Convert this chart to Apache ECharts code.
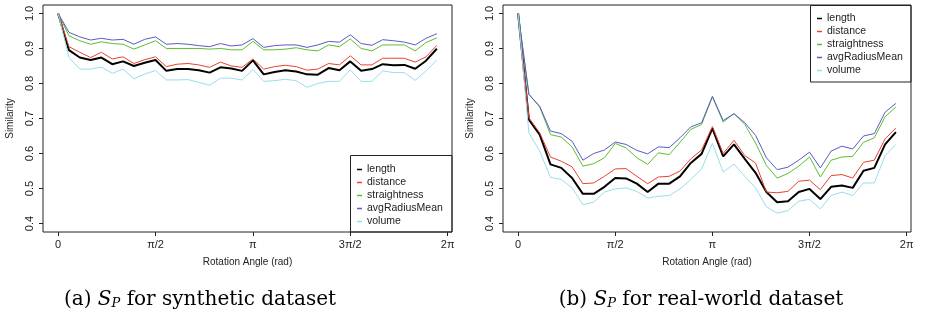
<!DOCTYPE html>
<html>
<head>
<meta charset="utf-8">
<script src="https://cdn.jsdelivr.net/npm/echarts@6/dist/echarts.min.js"></script>
<style>
  html, body { margin: 0; padding: 0; background: #fff; }
  #main { width: 925px; height: 321px; }
</style>
</head>
<body>
<div id="main"></div>
<script>
// rotation angles in degrees (one sample every 10 degrees)
const angleDeg = [0, 10, 20, 30, 40, 50, 60, 70, 80, 90, 100, 110, 120, 130, 140, 150, 160, 170,
                  180, 190, 200, 210, 220, 230, 240, 250, 260, 270, 280, 290, 300, 310, 320, 330, 340, 350];

const seriesNames = ['length', 'distance', 'straightness', 'avgRadiusMean', 'volume'];

// (a) synthetic dataset
const synLength = [1.0, 0.895, 0.874, 0.867, 0.874, 0.855, 0.863, 0.850, 0.859, 0.867, 0.836, 0.841, 0.841, 0.838, 0.831, 0.846, 0.843, 0.836,
                   0.866, 0.826, 0.833, 0.838, 0.834, 0.826, 0.825, 0.844, 0.838, 0.863, 0.836, 0.841, 0.855, 0.852, 0.853, 0.842, 0.865, 0.899];
const synDistance = [1.0, 0.905, 0.889, 0.874, 0.889, 0.870, 0.876, 0.857, 0.868, 0.876, 0.848, 0.855, 0.857, 0.853, 0.846, 0.861, 0.850, 0.846,
                     0.870, 0.841, 0.848, 0.852, 0.848, 0.838, 0.841, 0.857, 0.853, 0.879, 0.853, 0.853, 0.872, 0.872, 0.872, 0.861, 0.876, 0.909];
const synStraightness = [1.0, 0.936, 0.922, 0.912, 0.919, 0.914, 0.912, 0.898, 0.910, 0.922, 0.900, 0.900, 0.900, 0.900, 0.898, 0.900, 0.896, 0.896,
                         0.920, 0.896, 0.896, 0.898, 0.902, 0.896, 0.893, 0.910, 0.905, 0.927, 0.900, 0.893, 0.910, 0.910, 0.910, 0.893, 0.917, 0.930];
const synAvgRadiusMean = [1.0, 0.946, 0.933, 0.924, 0.929, 0.924, 0.926, 0.912, 0.926, 0.933, 0.912, 0.914, 0.912, 0.908, 0.905, 0.914, 0.907, 0.910,
                          0.928, 0.903, 0.908, 0.910, 0.910, 0.903, 0.910, 0.920, 0.918, 0.939, 0.914, 0.909, 0.925, 0.922, 0.918, 0.910, 0.929, 0.942];
const synVolume = [1.0, 0.874, 0.841, 0.841, 0.847, 0.829, 0.841, 0.813, 0.827, 0.837, 0.810, 0.810, 0.811, 0.803, 0.795, 0.815, 0.815, 0.810,
                   0.840, 0.806, 0.808, 0.812, 0.808, 0.789, 0.800, 0.806, 0.806, 0.839, 0.806, 0.806, 0.836, 0.831, 0.831, 0.809, 0.836, 0.867];

// (b) real-world dataset
const realLength = [1.0, 0.697, 0.654, 0.569, 0.559, 0.530, 0.485, 0.485, 0.505, 0.530, 0.529, 0.514, 0.490, 0.514, 0.514, 0.535, 0.573, 0.599,
                    0.672, 0.592, 0.626, 0.585, 0.545, 0.490, 0.461, 0.464, 0.490, 0.499, 0.470, 0.505, 0.509, 0.502, 0.551, 0.559, 0.626, 0.661];
const realDistance = [1.0, 0.702, 0.659, 0.590, 0.578, 0.562, 0.514, 0.516, 0.535, 0.556, 0.557, 0.535, 0.514, 0.533, 0.535, 0.550, 0.585, 0.610,
                      0.677, 0.600, 0.638, 0.594, 0.573, 0.490, 0.488, 0.492, 0.521, 0.524, 0.497, 0.537, 0.540, 0.530, 0.575, 0.581, 0.642, 0.673];
const realStraightness = [1.0, 0.769, 0.733, 0.654, 0.647, 0.619, 0.564, 0.571, 0.588, 0.629, 0.616, 0.588, 0.569, 0.602, 0.597, 0.632, 0.669, 0.683,
                          0.762, 0.690, 0.714, 0.683, 0.630, 0.566, 0.530, 0.543, 0.564, 0.590, 0.533, 0.581, 0.590, 0.592, 0.632, 0.645, 0.705, 0.733];
const realAvgRadiusMean = [1.0, 0.769, 0.735, 0.664, 0.657, 0.635, 0.581, 0.600, 0.610, 0.633, 0.626, 0.609, 0.599, 0.619, 0.617, 0.645, 0.676, 0.688,
                           0.763, 0.694, 0.714, 0.688, 0.652, 0.588, 0.554, 0.561, 0.581, 0.604, 0.559, 0.607, 0.621, 0.613, 0.650, 0.657, 0.718, 0.743];
const realVolume = [1.0, 0.659, 0.607, 0.532, 0.526, 0.502, 0.454, 0.461, 0.490, 0.499, 0.502, 0.492, 0.473, 0.478, 0.480, 0.499, 0.526, 0.556,
                    0.629, 0.547, 0.570, 0.535, 0.502, 0.448, 0.430, 0.437, 0.464, 0.469, 0.442, 0.480, 0.490, 0.480, 0.516, 0.516, 0.594, 0.626];

// tick labels
const xTickValues = [0, Math.PI / 2, Math.PI, 3 * Math.PI / 2, 2 * Math.PI];
const xTickLabels = ['0', 'π/2', 'π', '3π/2', '2π'];
const yTickValues = [0.4, 0.5, 0.6, 0.7, 0.8, 0.9, 1.0];
const yTickLabels = ['0.4', '0.5', '0.6', '0.7', '0.8', '0.9', '1.0'];

const colors = ['#000000', '#e8432f', '#5dbe2c', '#5a5acb', '#9bddec'];
const lineWidths = [2, 1, 1, 1, 1];

const synData = [synLength, synDistance, synStraightness, synAvgRadiusMean, synVolume];
const realData = [realLength, realDistance, realStraightness, realAvgRadiusMean, realVolume];

const angleRad = angleDeg.map(d => d * Math.PI / 180);
// R-style 4% padding around the data range
const xPad = 0.04 * (angleRad[angleRad.length - 1] - angleRad[0]);
const yPad = 0.04 * (1.0 - 0.4);

const font = 'Liberation Sans, Arial, Helvetica, sans-serif';
const textColor = '#222';

function makeX(idx) {
    return {
        type: 'value',
        gridIndex: idx,
        min: angleRad[0] - xPad,
        max: angleRad[angleRad.length - 1] + xPad,
        splitLine: { show: false },
        axisLine: { show: false, onZero: false },
        axisTick: { show: true, customValues: xTickValues, length: 4, lineStyle: { color: textColor } },
        axisLabel: {
            customValues: xTickValues,
            formatter: v => xTickLabels[xTickValues.findIndex(t => Math.abs(t - v) < 1e-6)],
            fontSize: 11, margin: 7, color: textColor, fontFamily: font
        },
        name: 'Rotation Angle (rad)',
        nameLocation: 'middle',
        nameGap: 25,
        nameTextStyle: { fontSize: 10, color: textColor, fontFamily: font }
    };
}

function makeY(idx) {
    return {
        type: 'value',
        gridIndex: idx,
        min: 0.4 - yPad,
        max: 1.0 + yPad,
        splitLine: { show: false },
        axisLine: { show: false, onZero: false },
        axisTick: { show: true, customValues: yTickValues, length: 4, lineStyle: { color: textColor } },
        axisLabel: {
            customValues: yTickValues,
            formatter: v => yTickLabels[yTickValues.findIndex(t => Math.abs(t - v) < 1e-6)],
            rotate: 90, fontSize: 11, margin: 8, color: textColor, fontFamily: font
        },
        name: 'Similarity',
        nameLocation: 'middle',
        nameGap: 28,
        nameTextStyle: { fontSize: 10, color: textColor, fontFamily: font }
    };
}

function makeSeries(dataSets, idx) {
    return dataSets.map((vals, k) => ({
        name: seriesNames[k],
        type: 'line',
        xAxisIndex: idx,
        yAxisIndex: idx,
        showSymbol: false,
        silent: true,
        animation: false,
        color: colors[k],
        lineStyle: { color: colors[k], width: lineWidths[k] },
        data: vals.map((v, i) => [angleRad[i], v])
    }));
}

function makeLegend(left, top) {
    return {
        data: seriesNames,
        orient: 'vertical',
        left: left,
        top: top,
        icon: 'rect',
        itemWidth: 5,
        itemHeight: 1.5,
        itemGap: 2,
        padding: 0,
        selectedMode: false,
        textStyle: { fontSize: 10.5, color: textColor, fontFamily: font, padding: [0, 0, 0, 0] }
    };
}

const serif = 'DejaVu Serif, Liberation Serif, serif';
const captionRich = {
    t: { fontSize: 20, fontFamily: serif, color: '#111' },
    s: { fontSize: 20, fontFamily: serif, fontStyle: 'italic', color: '#111' },
    sub: { fontSize: 13, fontFamily: serif, fontStyle: 'italic', color: '#111', padding: [8, 0, 0, 0] }
};

const chart = echarts.init(document.getElementById('main'), null, { renderer: 'canvas' });
chart.setOption({
    animation: false,
    backgroundColor: '#fff',
    grid: [
        { left: 43, top: 5, width: 409, height: 227, show: true, borderColor: '#222', borderWidth: 1, backgroundColor: 'transparent' },
        { left: 503, top: 5, width: 408, height: 227, show: true, borderColor: '#222', borderWidth: 1, backgroundColor: 'transparent' }
    ],
    xAxis: [makeX(0), makeX(1)],
    yAxis: [makeY(0), makeY(1)],
    legend: [makeLegend(357, 164), makeLegend(817, 13)],
    series: makeSeries(synData, 0).concat(makeSeries(realData, 1)),
    graphic: [
        { type: 'rect', shape: { x: 350.5, y: 155.5, width: 101.5, height: 76.5 }, style: { fill: 'transparent', stroke: '#222', lineWidth: 1 }, z: 10 },
        { type: 'rect', shape: { x: 810.5, y: 5.5, width: 100.5, height: 76.5 }, style: { fill: 'transparent', stroke: '#222', lineWidth: 1 }, z: 10 },
        {
            type: 'text', x: 200, y: 300,
            style: { text: '{t|(a) }{s|S}{sub|P}{t| for synthetic dataset}', rich: captionRich, align: 'center', verticalAlign: 'middle' }
        },
        {
            type: 'text', x: 701, y: 300,
            style: { text: '{t|(b) }{s|S}{sub|P}{t| for real-world dataset}', rich: captionRich, align: 'center', verticalAlign: 'middle' }
        }
    ]
});
</script>
</body>
</html>
